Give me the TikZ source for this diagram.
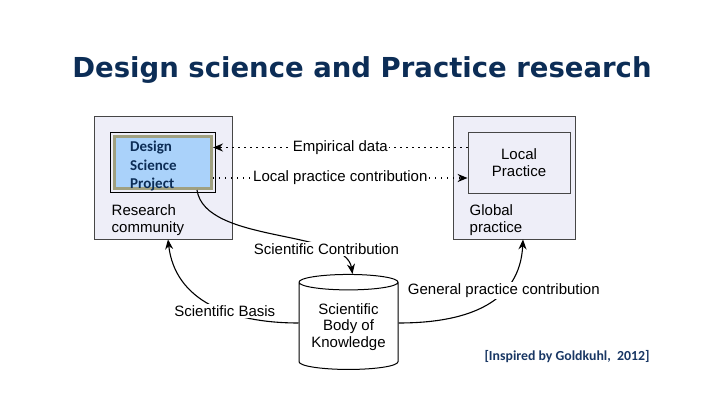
\documentclass[tikz,border=0pt]{standalone}
\usepackage{fontspec}
\setmainfont{Liberation Sans}
\newfontfamily\titlefont{DejaVu Sans}
\newfontfamily\calfont{Carlito}
\usetikzlibrary{arrows.meta, shapes.geometric, calc}
\definecolor{azulote}{RGB}{12,45,86}
\definecolor{dspblue}{RGB}{170,210,250}
\definecolor{dspframe}{RGB}{160,160,128}
\definecolor{boxfill}{RGB}{238,238,248}
\definecolor{boxline}{RGB}{70,70,70}
\definecolor{citeblue}{RGB}{25,55,100}
\tikzset{>={Stealth[length=10pt,width=8pt]},
	groupbox/.style={draw=boxline, fill=boxfill, line width=0.8pt, minimum height=123pt},
	dspbox/.style={draw=dspframe, fill=dspblue, line width=3pt, minimum width=97pt, minimum height=52pt, inner sep=0pt},
	dsptext/.style={align=left, inner sep=0pt, font=\calfont\bfseries\fontsize{15}{18.5}\selectfont, text=azulote},
	lpbox/.style={draw=boxline, fill=boxfill, line width=0.8pt, minimum width=102pt, minimum height=61pt, align=center},
	lbl/.style={font=\fontsize{15}{16.5}\selectfont, inner sep=1.5pt},
	dotline/.style={line width=1.3pt, dash pattern=on 1.3pt off 4.7pt},
	curve/.style={line width=1.1pt}}

\begin{document}
\begin{tikzpicture}[x=1pt,y=1pt]
	\useasboundingbox (0,0) rectangle (720,405);
	\node [font=\titlefont\bfseries\fontsize{27.5}{32}\selectfont, text=azulote] (title) at (362,335) {Design science and Practice research};

	% research side
	\node [groupbox, minimum width=138pt] (rc) at (163,227.5) {};
	\node [dspbox] (dsp) at (163,242.5) {};
	\draw [line width=0.8pt] ([shift={(-2.2pt,-2.2pt)}]dsp.south west) rectangle ([shift={(2.2pt,2.2pt)}]dsp.north east);
	\node [dsptext, anchor=west] (dsptxt) at (130,238.5) {Design\\Science\\Project};
	\node [lbl, anchor=west, align=left] (rctext) at (110,185) {Research\\community};

	% practice side
	\node [groupbox, minimum width=122pt] (gp) at (514,227.5) {};
	\node [lpbox, lbl] (lp) at (519,242.5) {Local\\Practice};
	\node [lbl, anchor=west, align=left] (gptext) at (468,185) {Global\\practice};

	\draw [dotline, ->] (lp.west |- 0,257.5) -- node[lbl, fill=white, solid]{Empirical data} (dsp.east |- 0,257.5);
	\draw [dotline, ->] (dsp.east |- 0,227) -- node[lbl, fill=white, solid]{Local practice contribution} (lp.west |- 0,227);

	% body of knowledge
	\node [cylinder, shape border rotate=90, aspect=0.2, draw, fill=white, line width=1pt, minimum width=99pt, minimum height=95pt, lbl, align=center] (bok) at (348.5,78) {Scientific\\Body of\\Knowledge};

	\draw [curve, ->] ([xshift=34pt]dsp.south) .. controls +(8,-54) and +(-7,45) .. node[pos=0.75, lbl, fill=white]{Scientific Contribution} ([xshift=4pt]bok.north);
	\draw [curve, ->] ([yshift=4pt]bok.west) .. controls +(-69,0) and +(7,-61) .. node[pos=0.4, lbl, fill=white]{Scientific Basis} ([xshift=5pt]rc.south);
	\draw [curve, ->] ([yshift=4pt]bok.east) .. controls +(72,0) and +(-3,-62) .. node[pos=0.65, lbl, fill=white]{General practice contribution} ([xshift=9pt]gp.south);

	\node [font=\calfont\bfseries\fontsize{13.8}{16}\selectfont, text=citeblue] (cite) at (567,48) {[Inspired by Goldkuhl,~ 2012]};
\end{tikzpicture}
\end{document}
